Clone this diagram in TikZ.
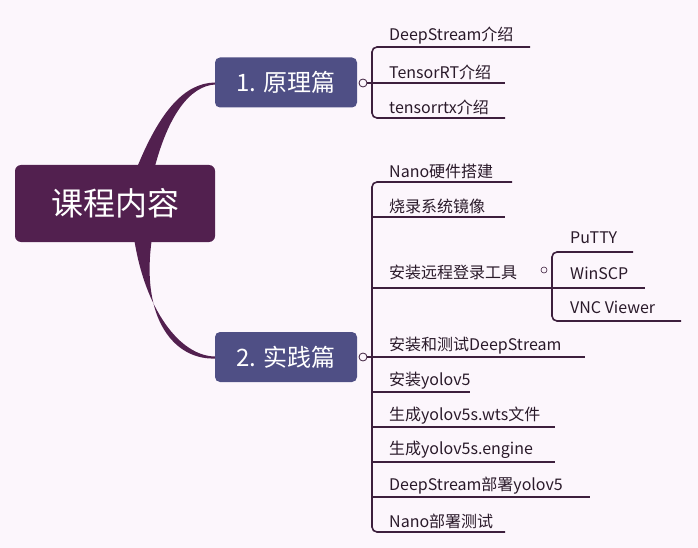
\documentclass[tikz,border=0pt]{standalone}
\usepackage{fontspec}
\setmainfont{Noto Sans CJK SC}
\begin{document}
\begin{tikzpicture}[x=1pt,y=-1pt,
  ln/.style={draw=lc,line width=1.6pt,rounded corners=5pt},
  it/.style={anchor=south west,inner sep=0pt,font=\fontsize{16}{18}\selectfont,text=txt},
  br/.style={fill=bc,rounded corners=5pt,minimum width=142pt,minimum height=50pt,text=white,font=\fontsize{24}{28}\selectfont},
  knob/.style={circle,draw=lc,fill=bg,line width=0.8pt,inner sep=0pt,minimum size=8pt}]
\definecolor{bg}{HTML}{FCF6FC}
\definecolor{lc}{HTML}{3D1F3D}
\definecolor{txt}{HTML}{2A1A2A}
\definecolor{rc}{HTML}{52204F}
\definecolor{bc}{HTML}{4F4F85}
\fill[bg] (0,0) rectangle (698,548);
\useasboundingbox (0,0) rectangle (698,548);
% connectors from root
\fill[rc] (136,170) .. controls (160,110) and (185,83) .. (215,82.5) -- (215,84.5) .. controls (190,86) and (168,115) .. (154,170) -- cycle;
\fill[rc] (134,238) .. controls (145,310) and (180,356) .. (215,356.5) -- (215,358.5) .. controls (175,360) and (140,320) .. (152,238) -- cycle;
\node[fill=rc,rounded corners=6pt,minimum width=200pt,minimum height=77pt,text=white,font=\fontsize{32}{38}\selectfont] (root) at (115,203.5) {课程内容};
\node[br] (b1) at (286,82.5) {1. 原理篇};
\node[br] (b2) at (286,357) {2. 实践篇};
% branch 1
\node[knob] (k1) at (363,83) {};
\draw[ln] (k1) -- (372,83);
\draw[ln] (530,47) -- (372,47) -- (372,118) -- (505,118);
\draw[ln] (372,83) -- (505,83);
\node[it] (a1) at (389,44) {DeepStream介绍};
\node[it] (a2) at (389,80) {TensorRT介绍};
\node[it] (a3) at (389,115) {tensorrtx介绍};
% branch 2
\node[knob] (k2) at (363,357) {};
\draw[ln] (k2) -- (372,357);
\draw[ln] (512,182) -- (372,182) -- (372,532) -- (505,532);
\draw[ln] (372,217) -- (505,217);
\draw[ln] (372,288) -- (645,288);
\draw[ln] (372,357) -- (585,357);
\draw[ln] (372,392) -- (470,392);
\draw[ln] (372,427) -- (555,427);
\draw[ln] (372,462) -- (555,462);
\draw[ln] (372,497) -- (590,497);
\node[it] (c1) at (389,179) {Nano硬件搭建};
\node[it] (c2) at (389,214) {烧录系统镜像};
\node[it] (c3) at (389,280) {安装远程登录工具};
\node[it] (c4) at (389,354) {安装和测试DeepStream};
\node[it] (c5) at (389,389) {安装yolov5};
\node[it] (c6) at (389,424) {生成yolov5s.wts文件};
\node[it] (c7) at (389,459) {生成yolov5s.engine};
\node[it] (c8) at (389,494) {DeepStream部署yolov5};
\node[it] (c9) at (389,529) {Nano部署测试};
% sub branch
\node[knob,minimum size=6pt,line width=0.6pt] (k3) at (544,270) {};
\draw[ln] (633,252) -- (552,252) -- (552,321) -- (681,321);
\node[it] (d1) at (570,244) {PuTTY};
\node[it] (d2) at (570,280) {WinSCP};
\node[it] (d3) at (570,314) {VNC Viewer};
\end{tikzpicture}
\end{document}
